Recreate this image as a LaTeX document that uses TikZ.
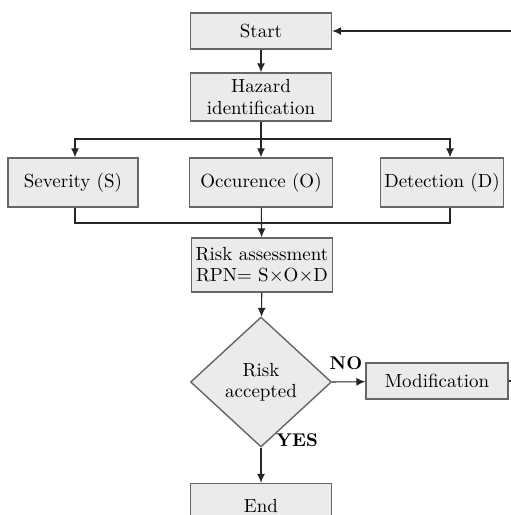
\documentclass[tikz,border=0pt]{standalone}
\usetikzlibrary{arrows.meta,shapes.geometric}

\begin{document}
\begin{tikzpicture}[x=0.02cm,y=-0.02cm,
    box/.style={draw=black!60,fill=black!8,line width=0.8pt,align=center,inner sep=1pt,
      minimum width=2.82cm,font=\fontsize{10.8}{12}\selectfont},
    lbl/.style={font=\fontsize{10.5}{11}\selectfont\bfseries},
    line/.style={black!85,line width=0.6pt},
    arr/.style={line,-{Latex[length=1.8mm,width=1.6mm]}}]
  \clip (0,0) rectangle (511,515);
  \begin{scope}
    \node[box,minimum height=0.72cm] (start) at (261,31) {Start};
    \node[box,minimum height=0.96cm] (hazard) at (261,97) {Hazard\\identification};

    \node[box,minimum width=2.6cm,minimum height=0.98cm] (sev) at (73,182.5) {Severity (S)};
    \node[box,minimum width=2.86cm,minimum height=0.98cm] (occ) at (261,182.5) {Occurence (O)};
    \node[box,minimum width=2.46cm,minimum height=0.98cm] (det) at (442,182.5) {Detection (D)};

    \node[box,minimum height=1.08cm] (risk) at (262,265) {Risk assessment\\RPN= S$\times$O$\times$D};
    \node[box,diamond,minimum width=2.82cm,minimum height=2.6cm,inner sep=0pt] (dec) at (261,382) {Risk\\accepted};
    \node[box,minimum width=2.84cm,minimum height=0.72cm] (mod) at (437,381) {Modification};
    \node[box,minimum height=0.9cm] (end) at (261,506) {End};

    \node[lbl] (no) at (346,363) {NO};
    \node[lbl] (yes) at (297,440) {YES};

    \coordinate (bartop) at (261,139);
    \coordinate (barbot) at (261,223);

    % fan out to the three ratings
    \draw[arr] (start) -- (hazard);
    \draw[line] (hazard) -- (bartop);
    \draw[arr] (bartop) -| ([xshift=0.04cm]sev.north);
    \draw[arr] (bartop) -- (occ);
    \draw[arr] (bartop) -| ([xshift=0.16cm]det.north);

    % join them again
    \draw[line] ([xshift=0.04cm]sev.south) |- (barbot);
    \draw[line] ([xshift=0.16cm]det.south) |- (barbot);
    \draw[arr] (occ) -- (risk);

    \draw[arr] (risk) -- (dec);
    \draw[arr] (dec.east) -- (mod);
    \draw[arr] (dec.south) -- (end);
    \draw[arr] (mod.east) -- ++(20,0) |- (start.east);
  \end{scope}
\end{tikzpicture}
\end{document}
